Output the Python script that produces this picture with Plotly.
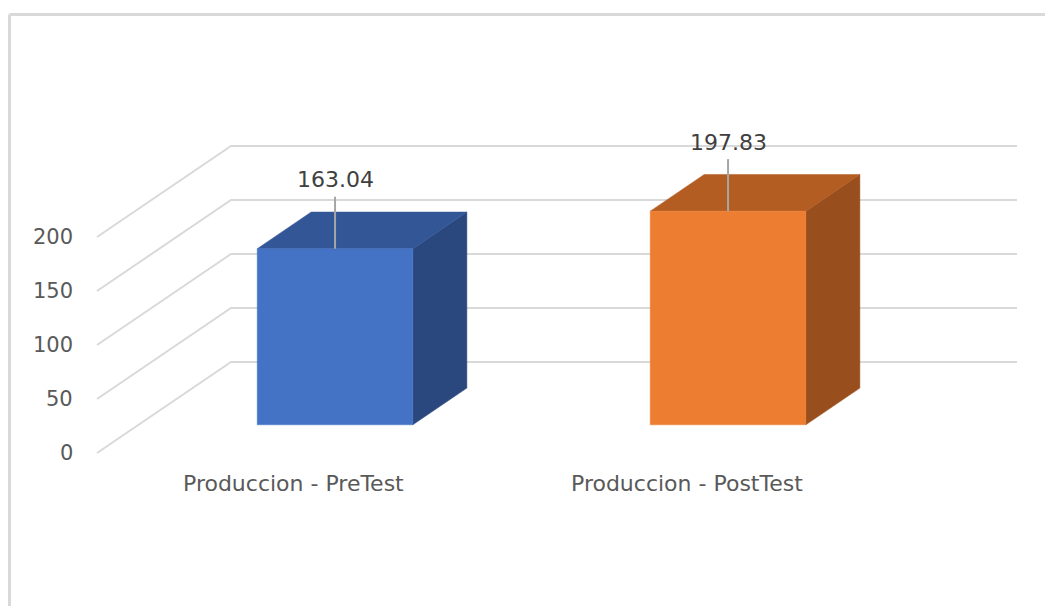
import plotly.graph_objects as go

# Chart data
categories = ["Produccion - PreTest", "Produccion - PostTest"]
values = [163.04, 197.83]
value_labels = ["163.04", "197.83"]
y_ticks = [0, 50, 100, 150, 200]

# Colours per bar: front, top, side
front_colors = ["#4472C4", "#ED7D31"]
top_colors = ["#335796", "#B35D22"]
side_colors = ["#2A487D", "#994F1D"]

# Page / projection set-up
W, H = 1045, 606
PX_PER_CAT = 393.0          # horizontal pixels per category slot
PX_PER_VAL = 1.08           # vertical pixels per value unit
FRONT_LEFT_PX = 97.0        # pixel x of the front-left floor corner
FRONT_ZERO_PX = 453.0       # pixel y of value 0 on the front plane
DEPTH_DX = 134.0 / PX_PER_CAT   # x shift (category units) for full depth
DEPTH_DY = 91.0 / PX_PER_VAL    # y shift (value units) for full depth
BAR_Z0, BAR_Z1 = 0.31, 0.713    # bar front and back depth
BAR_HALF = 0.198                # half bar width in category units

x_min = -0.5 - FRONT_LEFT_PX / PX_PER_CAT
x_max = -0.5 + (W - FRONT_LEFT_PX) / PX_PER_CAT
y_min = -(H - FRONT_ZERO_PX) / PX_PER_VAL
y_max = FRONT_ZERO_PX / PX_PER_VAL


def proj(x, v, z):
    """Oblique projection of (category x, value v, depth z) onto the axes."""
    return x + z * DEPTH_DX, v + z * DEPTH_DY


fig = go.Figure()

GRID = "#D9D9D9"
left_edge = -0.5
right_edge = len(categories) - 0.5

# Side-wall diagonals and back-wall gridlines
for t in y_ticks:
    p0 = proj(left_edge, t, 0)
    p1 = proj(left_edge, t, 1)
    p2 = proj(right_edge, t, 1)
    fig.add_trace(go.Scatter(
        x=[p0[0], p1[0], p2[0]], y=[p0[1], p1[1], p2[1]],
        mode="lines", line=dict(color=GRID, width=2),
        hoverinfo="skip", showlegend=False))


def face(points, color):
    xs = [p[0] for p in points] + [points[0][0]]
    ys = [p[1] for p in points] + [points[0][1]]
    fig.add_trace(go.Scatter(
        x=xs, y=ys, mode="lines", fill="toself", fillcolor=color,
        line=dict(color=color, width=0.5), hoverinfo="skip", showlegend=False))


# Bars as three visible faces: side, top, front
for i, v in enumerate(values):
    xl, xr = i - BAR_HALF, i + BAR_HALF
    side = [proj(xr, 0, BAR_Z0), proj(xr, 0, BAR_Z1),
            proj(xr, v, BAR_Z1), proj(xr, v, BAR_Z0)]
    top = [proj(xl, v, BAR_Z0), proj(xr, v, BAR_Z0),
           proj(xr, v, BAR_Z1), proj(xl, v, BAR_Z1)]
    front = [proj(xl, 0, BAR_Z0), proj(xr, 0, BAR_Z0),
             proj(xr, v, BAR_Z0), proj(xl, v, BAR_Z0)]
    face(side, side_colors[i])
    face(top, top_colors[i])
    face(front, front_colors[i])

FONT = "DejaVu Sans"
TEXT = "#595959"
annotations = []

# Value axis labels
for t in y_ticks:
    annotations.append(dict(
        x=left_edge, y=t, text=str(t), showarrow=False,
        xanchor="right", yanchor="middle", xshift=-22,
        font=dict(family=FONT, size=21, color=TEXT)))

# Category labels
for i, c in enumerate(categories):
    annotations.append(dict(
        x=i, y=0, text=c, showarrow=False,
        xanchor="center", yanchor="middle", yshift=-30,
        font=dict(family=FONT, size=22, color=TEXT)))

# Data labels with leader lines
LABEL_RISE = 69 / PX_PER_VAL
LEADER_GAP = 17 / PX_PER_VAL
for i, v in enumerate(values):
    bx, by = proj(i, v, BAR_Z0)
    annotations.append(dict(
        x=bx, y=by + LABEL_RISE, text=value_labels[i], showarrow=False,
        xanchor="center", yanchor="middle",
        font=dict(family=FONT, size=22, color="#404040")))
    fig.add_trace(go.Scatter(
        x=[bx, bx], y=[by, by + LABEL_RISE - LEADER_GAP],
        mode="lines", line=dict(color="#A6A6A6", width=2),
        hoverinfo="skip", showlegend=False))

# Chart area border (left and top edges)
shapes = [
    dict(type="line", xref="paper", yref="paper",
         x0=9.5 / W, x1=1.0, y0=1 - 14.5 / H, y1=1 - 14.5 / H,
         line=dict(color="#D9D9D9", width=3)),
    dict(type="line", xref="paper", yref="paper",
         x0=9.5 / W, x1=9.5 / W, y0=0, y1=1 - 14.5 / H,
         line=dict(color="#D9D9D9", width=3)),
]

fig.update_layout(
    width=W, height=H,
    margin=dict(l=0, r=0, t=0, b=0),
    paper_bgcolor="white", plot_bgcolor="white",
    xaxis=dict(range=[x_min, x_max], visible=False, fixedrange=True),
    yaxis=dict(range=[y_min, y_max], visible=False, fixedrange=True),
    annotations=annotations, shapes=shapes, showlegend=False,
)

fig.write_html("out.html")
